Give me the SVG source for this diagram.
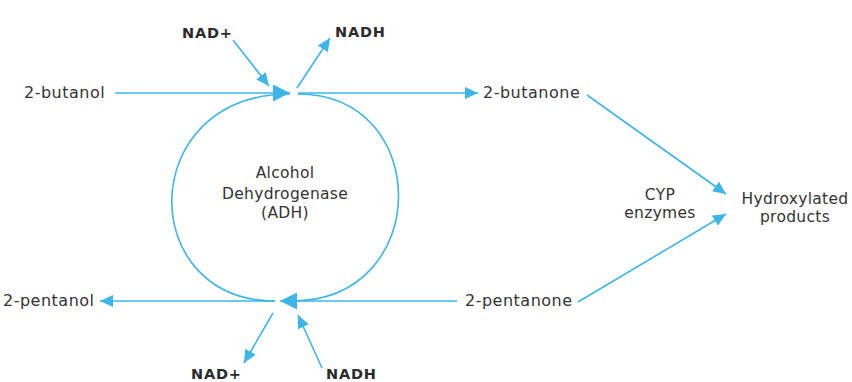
<svg xmlns="http://www.w3.org/2000/svg" width="852" height="382" viewBox="0 0 852 382">
<style>
.t{font-family:"DejaVu Sans","Liberation Sans",sans-serif;font-size:16px;fill:#333;letter-spacing:0.5px}
.c{font-size:15.5px;text-anchor:middle;letter-spacing:0.3px}
.b{font-family:"DejaVu Sans","Liberation Sans",sans-serif;font-size:14.5px;font-weight:bold;fill:#2b2b2b;letter-spacing:0.8px}
.e{fill:none;stroke:#3db5e8;stroke-width:1.6}
.s{marker-end:url(#ah)}
.g{marker-end:url(#big)}
</style>
<defs>
<marker id="ah" markerUnits="userSpaceOnUse" markerWidth="13" markerHeight="12" refX="13" refY="6" orient="auto"><path d="M0,0 L13,6 L0,12 z" fill="#3db5e8"/></marker>
<marker id="big" markerUnits="userSpaceOnUse" markerWidth="17" markerHeight="17" refX="17" refY="8.5" orient="auto"><path d="M0,0 L17,8.5 L0,17 z" fill="#3db5e8"/></marker>
</defs>
<rect width="852" height="382" fill="#fff"/>
<g id="connectors">
<path class="e g" d="M115,93 L290,93"/>
<path class="e s" d="M298,93 L478,93"/>
<path class="e" d="M290,94 C135,94 135,301 275,301"/>
<path class="e" d="M298,94 C433,94 433,301 292,301"/>
<path class="e g" d="M457,301 L280,301"/>
<path class="e s" d="M275,301 L100,301"/>
<path class="e s" d="M233,40 L269,86"/>
<path class="e s" d="M297,88 L330,38"/>
<path class="e s" d="M273,313 L244,363"/>
<path class="e s" d="M322,368 L298,315"/>
<path class="e s" d="M587,95 L726,194"/>
<path class="e s" d="M578,302 L726,214"/>
</g>
<g id="butanol"><text class="t" x="24" y="98">2-butanol</text></g>
<g id="butanone"><text class="t" x="483" y="98">2-butanone</text></g>
<g id="pentanone"><text class="t" x="465" y="306">2-pentanone</text></g>
<g id="pentanol"><text class="t" x="3" y="306">2-pentanol</text></g>
<g id="adh"><text class="t c" x="285" y="178">Alcohol</text><text class="t c" x="285" y="199">Dehydrogenase</text><text class="t c" x="285" y="218">(ADH)</text></g>
<g id="cyp"><text class="t c" x="660" y="200">CYP</text><text class="t c" x="660" y="218">enzymes</text></g>
<g id="products"><text class="t c" x="795" y="204">Hydroxylated</text><text class="t c" x="795" y="222">products</text></g>
<g id="nad-top"><text class="b" x="182" y="38">NAD+</text></g>
<g id="nadh-top"><text class="b" x="335" y="37">NADH</text></g>
<g id="nad-bottom"><text class="b" x="191" y="379">NAD+</text></g>
<g id="nadh-bottom"><text class="b" x="326" y="379">NADH</text></g>
</svg>
